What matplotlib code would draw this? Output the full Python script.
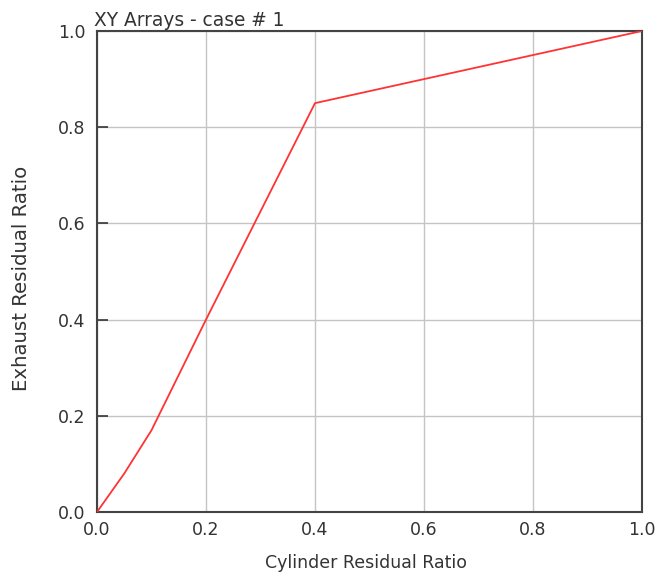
import matplotlib
matplotlib.use("Agg")
import matplotlib.pyplot as plt

# data
cyl_ratio = [0.0, 0.05, 0.1, 0.2, 0.4, 1.0]
exh_ratio = [0.0, 0.08, 0.17, 0.4, 0.85, 1.0]
ticks = [0.0, 0.2, 0.4, 0.6, 0.8, 1.0]

plt.rcParams['font.family'] = ['DejaVu Sans']
txt = "#333333"

fig = plt.figure(figsize=(6.63, 5.73), dpi=100)
ax = fig.add_axes([97/663, 61/573, 545/663, 481/573])

ax.plot(cyl_ratio, exh_ratio, color="#ff3333", linewidth=1.3, zorder=3)

ax.set_xlim(0, 1)
ax.set_ylim(0, 1)
ax.set_xticks(ticks)
ax.set_yticks(ticks)
ax.set_xticklabels([f"{t:.1f}" for t in ticks])
ax.set_yticklabels([f"{t:.1f}" for t in ticks])
ax.grid(True, color="#c4c4c4", linewidth=1.0)
ax.tick_params(axis="y", direction="in", length=8, width=1.2, labelsize=12.5,
               colors=txt, pad=8.5)
ax.tick_params(axis="x", length=0, labelsize=12.5, colors=txt, pad=6.5)
for s in ax.spines.values():
    s.set_color("#444444")
    s.set_linewidth(1.5)

ax.set_xlabel("Cylinder Residual Ratio", fontsize=12.5, color=txt, va="center")
ax.xaxis.set_label_coords(0.494, -0.106)
ax.set_ylabel("Exhaust Residual Ratio", fontsize=14.2, color=txt, va="center")
ax.yaxis.set_label_coords(-0.138, 0.486)
fig.text(94/663, 1 - 26/573, "XY Arrays - case # 1", fontsize=13.4, color=txt,
         ha="left", va="baseline")

fig.savefig("out.png", dpi=100)
